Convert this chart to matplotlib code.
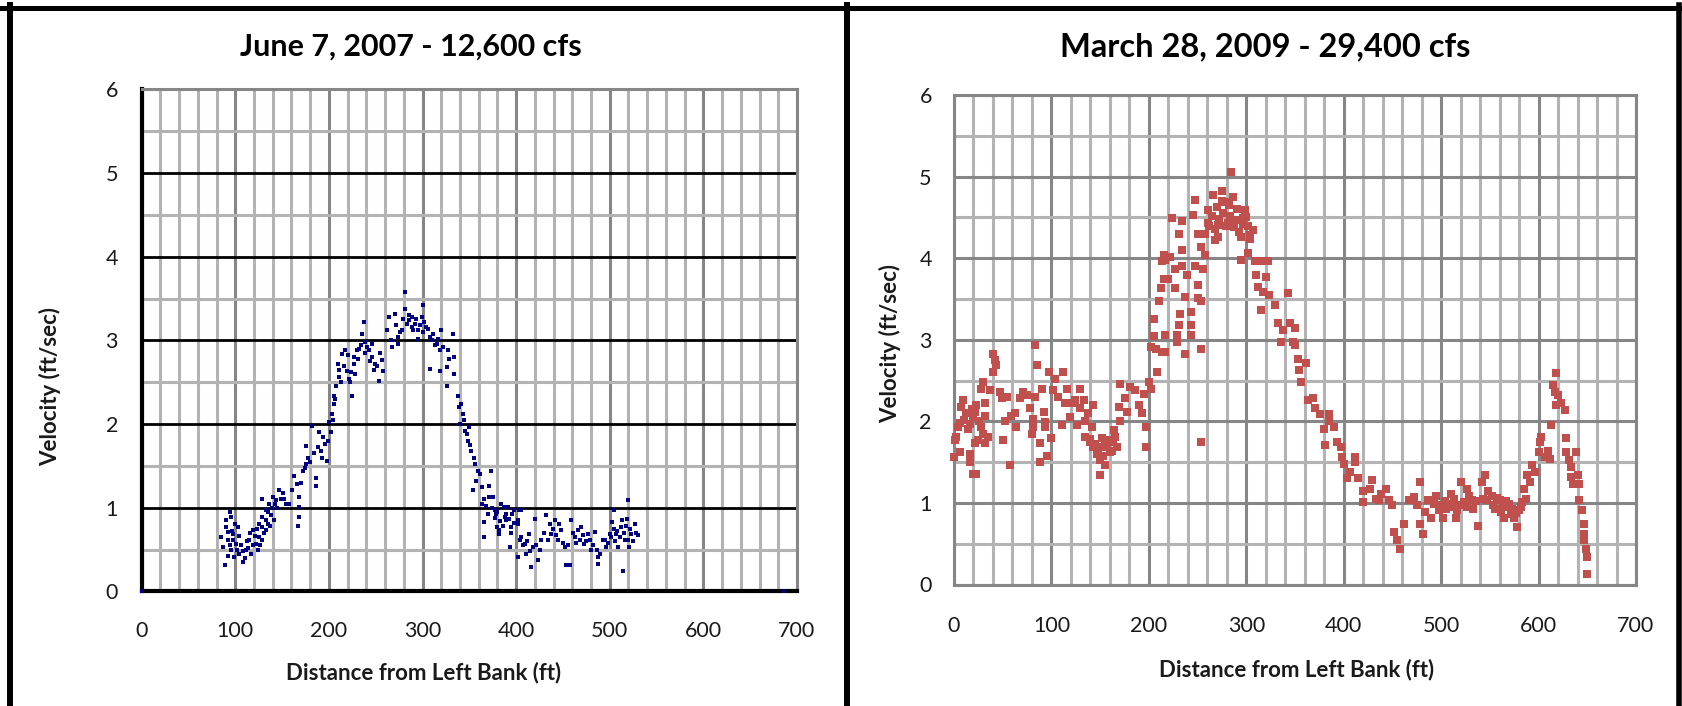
import matplotlib
matplotlib.use('Agg')
import matplotlib.pyplot as plt
from matplotlib.lines import Line2D
from matplotlib.ticker import MultipleLocator

# June 7, 2007 - 12,600 cfs (distance ft, velocity ft/sec)
june_dist = [0, 88.5, 93.8, 95.6, 90, 97, 92, 86.7, 95.6, 101, 104, 108, 99, 111.5, 115, 118.6,
             122, 117, 124, 125.7, 129, 102.7, 92, 85, 125.7, 129, 132.7, 136, 129, 140, 143, 147,
             152, 154, 134.5, 138, 141.6, 132.7, 161, 166, 168, 168, 168, 167, 163, 172, 175, 178,
             175, 182, 189, 186, 186, 191, 196, 198, 193, 200, 202, 203.5, 205, 205, 208, 210.6,
             210, 214, 217.7, 219.5, 221, 225, 223, 228, 226.5, 232, 235, 237, 239, 242.5, 246,
             249.6, 253, 256.6, 258, 246, 230, 263.7, 267, 270.8, 274, 277.9, 281.4, 281.4, 285,
             288.5, 292, 295.6, 301, 299, 304, 308, 308, 311.5, 315, 318.6, 320, 318.6, 325.7, 327,
             332.7, 334, 334, 325.7, 288.5, 295.6, 274, 338, 341.6, 343, 340, 345, 350, 348.7, 352,
             356, 359, 357.5, 354, 373, 371, 366, 363, 366, 366, 375, 378.6, 384, 381.6, 387.6,
             391, 396, 394.7, 403.5, 401.8, 387.5, 398, 402, 393, 402, 405, 409, 414, 416, 419.6,
             418, 423, 427, 432, 436, 437.5, 441, 444.6, 448, 452, 453.6, 457, 459, 462.5, 466,
             469.6, 473, 477, 480, 484, 487.5, 487.5, 493, 496, 500, 502, 505, 507, 509, 512.5, 514,
             516, 518, 519.6, 523, 527, 530, 521, 410.7, 405, 380, 371, 377, 389, 382, 686,
             90, 92, 94, 96, 98, 100, 102, 104, 106, 108, 110, 112, 114, 116, 119, 121, 123, 126,
             128, 131, 133, 135, 137, 139, 142, 145, 149, 151, 157,
             272, 276, 279, 283, 286, 290, 293, 297, 300, 302, 306, 310, 313, 316, 322, 328, 266, 262,
             339, 344, 347, 351, 355, 361, 364, 368, 370, 374, 377, 380, 383, 386, 389, 392, 395, 398,
             404, 407, 412, 415, 421, 425, 430, 434, 439, 443, 446, 450, 455, 461, 464, 468, 471,
             475, 479, 482, 486, 490, 495, 498, 501, 504, 506, 508, 511, 513, 515, 517, 520, 522,
             525, 528,
             170, 174, 180, 184, 188, 194, 199, 204, 207, 211, 213, 216, 220, 224, 227, 231, 234,
             238, 241, 244, 248, 251, 255]
june_vel = [0, 0.31, 0.95, 0.89, 0.77, 0.69, 0.61, 0.53, 0.49, 0.57, 0.45, 0.35, 0.41, 0.49, 0.61,
            0.73, 0.57, 0.45, 0.49, 0.65, 0.77, 0.77, 0.71, 0.65, 0.81, 0.89, 0.97, 1.05, 1.11, 1.13,
            1.09, 1.21, 1.11, 1.05, 0.81, 0.91, 0.85, 0.73, 1.21, 1.28, 1.13, 1.01, 0.89, 0.78, 1.38,
            1.44, 1.52, 1.60, 1.74, 1.98, 1.90, 1.36, 1.26, 1.68, 1.76, 1.56, 1.60, 2.02, 1.90, 2.12,
            2.24, 2.34, 2.46, 2.56, 2.72, 2.84, 2.88, 2.64, 2.54, 2.34, 2.50, 2.60, 2.80, 2.90, 3.08,
            3.22, 2.98, 2.88, 2.96, 2.72, 2.52, 2.76, 2.64, 2.80, 2.88, 3.28, 2.92, 3.32, 3.04, 3.12,
            3.58, 3.38, 3.24, 3.16, 3.20, 3.12, 3.42, 3.28, 3.16, 3.04, 2.66, 3.08, 2.96, 2.88, 3.12,
            2.64, 2.68, 2.88, 3.08, 2.80, 2.60, 2.46, 3.28, 3.02, 2.96, 2.34, 2.24, 2.12, 2.00, 1.92,
            1.96, 1.80, 1.68, 1.52, 1.44, 1.32, 1.21, 1.44, 1.26, 1.11, 1.05, 0.83, 0.65, 1.13, 0.93,
            1.05, 0.73, 0.89, 1.01, 0.93, 0.77, 0.97, 0.81, 1.01, 0.97, 0.85, 0.53, 0.41, 0.65, 0.57,
            0.69, 0.29, 0.87, 0.53, 0.37, 0.61, 0.91, 0.81, 0.69, 0.85, 0.61, 0.73, 0.53, 0.31, 0.31,
            0.85, 0.65, 0.73, 0.77, 0.57, 0.69, 0.49, 0.71, 0.41, 0.33, 0.61, 0.53, 0.69, 0.83, 0.97,
            0.69, 0.53, 0.77, 0.24, 0.61, 0.87, 1.09, 0.69, 0.81, 0.67, 0.53, 0.45, 0.97, 0.77, 1.13,
            0.97, 0.85, 0.69, 0,
            0.85, 0.42, 0.55, 0.72, 0.62, 0.80, 0.50, 0.66, 0.56, 0.48, 0.40, 0.60, 0.52, 0.70,
            0.55, 0.66, 0.75, 0.55, 0.62, 0.70, 0.85, 0.95, 0.78, 1.00, 1.05, 1.00, 1.10, 1.18, 1.05,
            3.18, 3.10, 3.25, 3.20, 3.30, 3.12, 3.26, 3.18, 3.10, 3.22, 3.14, 3.00, 2.95, 3.02, 2.92,
            2.78, 3.00, 3.12,
            2.20, 2.05, 1.88, 1.75, 1.60, 1.40, 1.25, 1.02, 0.92, 1.00, 0.88, 0.95, 0.84, 0.78, 0.92,
            0.86, 0.70, 0.82,
            0.62, 0.55, 0.60, 0.48, 0.55, 0.50, 0.70, 0.62, 0.75, 0.68, 0.80, 0.58, 0.55, 0.70, 0.58,
            0.62, 0.68, 0.60, 0.62, 0.55, 0.50, 0.45, 0.62, 0.58, 0.65, 0.75, 0.60, 0.72, 0.65, 0.85,
            0.70, 0.78, 0.62, 0.75, 0.60, 0.70,
            1.30, 1.48, 1.55, 1.65, 1.72, 1.85, 1.80, 2.05, 2.30, 2.65, 2.50, 2.70, 2.82, 2.62, 2.72,
            2.78, 2.95, 2.85, 2.92, 2.75, 2.65, 2.70, 2.85]

# March 28, 2009 - 29,400 cfs
march_dist = [0, 2.4, 9.3, 7.6, 12.7, 4, 0.7, 5.8, 16, 16, 19.6, 23, 21.3, 24.7, 31.6, 28, 35, 23,
              31.6, 28, 29.9, 19.6, 16, 31.6, 40, 42, 43.6, 40, 37, 47, 48.8, 52, 50.5, 53.9, 57, 59,
              62.5, 64, 68, 71, 74.5, 78, 81.4, 80, 83, 84.9, 83, 81.4, 88, 88, 92, 90, 93.5, 95,
              93.5, 97, 100, 103.8, 102, 107, 111, 112, 114, 115.8, 119, 121, 124.4, 126, 129.6,
              129.6, 133, 134.7, 138, 143, 141.6, 134.7, 139.9, 143, 146.7, 150, 151.9, 155, 150,
              159, 162, 165.6, 164, 155, 167, 170.8, 169, 170.8, 176, 177.7, 181, 186, 190, 193,
              194.8, 196.6, 196.6, 200, 201.7, 201.7, 205, 207, 208.6, 213.7, 210, 212, 205, 213,
              215.5, 215.5,
              284.7, 274.6, 266, 247.5, 245.8, 223.7, 233.9, 230.5, 250.8, 261, 261, 269.5, 278,
              286.4, 271, 281.4, 288.1, 296.6, 301.7, 306.8, 295, 303.4, 298.3, 267.8, 271, 254,
              257.5, 233.9, 222, 216.9, 233.9, 227, 238.8, 247.5, 256, 220, 227, 250.8, 237, 250.8,
              254, 232, 243, 230.5, 243, 216.9, 229, 243, 229, 216.9, 237, 254, 254, 295, 301.7,
              308.5, 315, 321.9, 310, 320, 311.8, 317, 323.6, 342.4, 329.4, 315, 332.7, 337.8, 344.6,
              349.7, 336, 347.8, 349.7, 353, 361, 354, 356, 363, 368, 371, 376, 384.7, 384.7, 390,
              379.7, 381, 393.6, 397, 398.6, 400, 412, 412, 406.8, 403.4, 415, 428.8, 427, 420, 420,
              433,
              443.3, 438, 436.7, 446.7, 450, 451.7, 455, 458, 461.7, 466.7, 471.7, 475, 478, 478,
              481.7, 483, 486.7, 490, 493, 495, 498, 501.7, 505, 510, 511.7, 515, 516.7, 520, 523,
              526.7, 531.7, 533, 538, 541.7, 545, 546.7, 548, 551.7, 555, 560, 561.7, 565, 568,
              571.7, 575, 578, 580, 583, 585, 586.7, 588, 591.7, 593, 596.7, 600, 603, 601.7, 606.7,
              610, 611.7, 613, 615, 616.7, 618, 620, 618, 623, 626.7, 628, 628, 631.7, 633, 633, 638,
              640, 641.7, 635, 641.7, 645, 646.7, 646.7, 646.7, 648.3, 650, 650,
              262, 265, 268, 272, 276, 279, 283, 287, 290, 293, 297, 300, 304, 258, 275, 282,
              500, 504, 508, 513, 518, 527, 529, 536, 543, 553, 557, 563, 567, 573, 577, 582, 570,
              140, 148, 153, 157, 160, 163, 145, 152, 10, 14, 18, 6, 26, 22, 30]
march_vel = [1.56, 1.81, 2.26, 2.18, 2.10, 1.93, 1.77, 1.62, 1.60, 1.50, 1.36, 1.36, 1.73, 1.77,
             1.73, 1.93, 1.81, 2.20, 2.22, 2.40, 2.48, 2.05, 1.97, 2.07, 2.83, 2.75, 2.69, 2.61, 2.38,
             2.36, 2.28, 2.01, 1.77, 2.30, 1.46, 2.07, 2.10, 1.93, 2.28, 2.36, 2.32, 2.16, 1.93, 1.85,
             2.93, 2.69, 2.30, 2.03, 1.73, 1.50, 2.12, 2.40, 1.99, 1.58, 1.93, 2.61, 1.79, 2.52, 2.38,
             2.30, 1.95, 2.61, 2.22, 2.40, 2.05, 2.22, 2.26, 1.95, 2.40, 2.16, 2.26, 2.01, 2.10, 2.20,
             1.93, 1.81, 1.75, 1.69, 1.60, 1.52, 1.69, 1.46, 1.34, 1.77, 1.64, 1.81, 1.89, 1.73, 1.69,
             2.46, 2.18, 2.01, 2.28, 2.12, 2.42, 2.38, 2.20, 2.10, 2.34, 1.69, 1.93, 2.48, 2.40, 2.91,
             3.04, 2.89, 2.61, 2.85, 3.47, 3.63, 3.26, 3.96, 4.04, 3.75,
             5.06, 4.82, 4.77, 4.71, 4.53, 4.49, 4.45, 4.30, 4.30, 4.43, 4.59, 4.63, 4.69, 4.75,
             4.41, 4.43, 4.47, 4.49, 4.39, 4.35, 4.26, 4.24, 4.59, 4.22, 4.26, 4.14, 4.04, 4.10,
             4.02, 3.98, 3.90, 3.87, 3.79, 3.90, 3.87, 3.75, 3.63, 3.67, 3.53, 3.51, 3.47, 3.32,
             3.34, 3.18, 3.18, 3.06, 3.06, 3.06, 2.97, 2.85, 2.83, 2.89, 1.75, 3.98, 4.06, 3.96,
             3.96, 3.96, 3.79, 3.77, 3.65, 3.59, 3.55, 3.57, 3.42, 3.36, 3.20, 3.12, 3.20, 3.14,
             2.97, 2.97, 2.93, 2.77, 2.71, 2.63, 2.48, 2.26, 2.28, 2.16, 2.09, 2.09, 2.01, 1.93,
             1.91, 1.71, 1.75, 1.69, 1.56, 1.48, 1.56, 1.50, 1.38, 1.30, 1.30, 1.28, 1.17, 1.15,
             1.01, 1.05,
             1.17, 1.11, 1.03, 1.03, 0.97, 0.64, 0.54, 0.44, 0.74, 1.03, 1.07, 0.97, 1.26, 0.74,
             0.62, 0.89, 1.03, 0.81, 0.99, 1.09, 0.91, 0.81, 0.93, 1.11, 0.99, 0.81, 0.91, 1.26,
             1.01, 1.17, 1.03, 0.93, 0.72, 1.26, 1.34, 1.03, 1.15, 1.09, 0.93, 1.03, 0.89, 0.81,
             0.95, 0.87, 0.81, 0.70, 0.91, 1.01, 1.17, 1.05, 1.34, 1.26, 1.46, 1.38, 1.62, 1.81,
             1.75, 1.56, 1.64, 1.54, 1.95, 2.44, 2.36, 2.59, 2.32, 2.20, 2.22, 2.14, 1.79, 1.62,
             1.52, 1.44, 1.32, 1.62, 1.34, 1.23, 1.23, 1.03, 0.91, 0.74, 0.62, 0.54, 0.44, 0.34, 0.13,
             4.40, 4.52, 4.36, 4.48, 4.55, 4.40, 4.52, 4.38, 4.60, 4.32, 4.42, 4.50, 4.28, 4.30,
             4.70, 4.65,
             0.98, 1.02, 0.95, 1.05, 0.98, 0.95, 1.08, 1.02, 1.05, 0.98, 1.06, 0.97, 1.02, 0.93,
             0.88, 0.95, 0.99,
             1.78, 1.65, 1.58, 1.70, 1.62, 1.75, 1.72, 1.80, 2.02, 1.90, 2.15, 1.98, 2.00, 2.12, 1.85]

titles = ['June 7, 2007 - 12,600 cfs', 'March 28, 2009 - 29,400 cfs']
xlabel = 'Distance from Left Bank (ft)'
ylabel = 'Velocity (ft/sec)'

W, H = 1683, 706
fig = plt.figure(figsize=(W / 100, H / 100), dpi=100)
plt.rcParams['font.family'] = ['Lato', 'DejaVu Sans']

def px(x0, y0, x1, y1):
    return [x0 / W, 1 - y1 / H, (x1 - x0) / W, (y1 - y0) / H]

ax1 = fig.add_axes(px(141.7, 89.4, 797, 591.4))
ax2 = fig.add_axes(px(954, 95, 1636, 584.5))

light = '#b3b3b3'
dark = '#868686'
txt = '#1a1a1a'

for ax in (ax1, ax2):
    ax.set_xlim(0, 700)
    ax.set_ylim(0, 6)
    ax.xaxis.set_major_locator(MultipleLocator(100))
    ax.xaxis.set_minor_locator(MultipleLocator(20))
    ax.yaxis.set_major_locator(MultipleLocator(1))
    ax.yaxis.set_minor_locator(MultipleLocator(0.5))
    ax.set_axisbelow(True)
    ax.grid(which='minor', color=light, lw=2.2)
    ax.grid(which='major', axis='x', color=dark, lw=2.2)
    ax.tick_params(which='both', length=0, labelsize=15.5, colors=txt)
    for s in ax.spines.values():
        s.set_color(dark)
        s.set_linewidth(2.2)

ax1.grid(which='major', axis='y', color='black', lw=2)
ax1.spines['left'].set_color('black')
ax1.spines['bottom'].set_color('black')
ax1.spines['left'].set_linewidth(3)
ax1.spines['bottom'].set_linewidth(3)
ax2.grid(which='major', axis='y', color=dark, lw=2.2)

ax1.tick_params(axis='x', pad=21)
ax1.tick_params(axis='y', pad=17)
ax2.tick_params(axis='x', pad=23)
ax2.tick_params(axis='y', pad=16)

ax1.plot(june_dist, june_vel, 's', color='#000080', ms=3.4, mew=0, clip_on=False, zorder=3)
ax2.plot(march_dist, march_vel, 's', color='#c0504d', ms=5.4, mew=0, clip_on=False, zorder=3)

# titles and axis labels placed as in the original panels
fig.text(411 / W, 1 - 47 / H, titles[0], ha='center', va='center', fontsize=22, fontweight='bold')
fig.text(1265 / W, 1 - 47 / H, titles[1], ha='center', va='center', fontsize=23.5, fontweight='bold')
fig.text(424 / W, 1 - 673 / H, xlabel, ha='center', va='center', fontsize=16, fontweight='bold', color=txt)
fig.text(1297 / W, 1 - 670 / H, xlabel, ha='center', va='center', fontsize=16, fontweight='bold', color=txt)
fig.text(50 / W, 1 - 387 / H, ylabel, ha='center', va='center', rotation=90, fontsize=16, fontweight='bold', color=txt)
fig.text(890 / W, 1 - 343 / H, ylabel, ha='center', va='center', rotation=90, fontsize=16, fontweight='bold', color=txt)

# panel frames
fig.add_artist(Line2D([0, 1], [1 - 7.5 / H, 1 - 7.5 / H], color='black', lw=3.6))
fig.add_artist(Line2D([10 / W, 10 / W], [0, 1 - 5 / H], color='black', lw=4.3))
fig.add_artist(Line2D([847 / W, 847 / W], [0, 1 - 5 / H], color='black', lw=4.3))
fig.add_artist(Line2D([1679 / W, 1679 / W], [0, 1 - 5 / H], color='black', lw=4))

fig.savefig('out.png', dpi=100, facecolor='white')
